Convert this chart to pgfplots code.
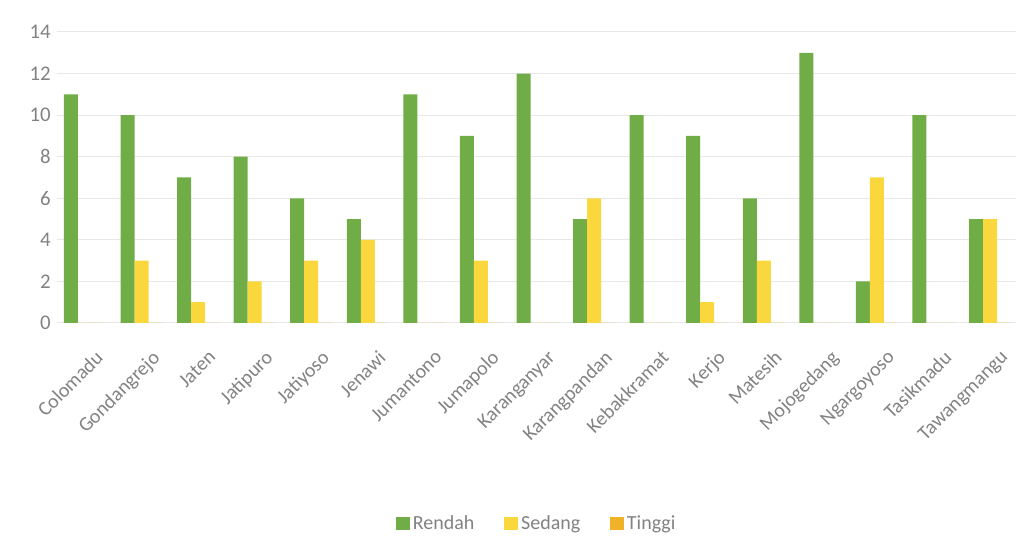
\documentclass[border=0pt]{standalone}
\usepackage{pgfplots}
\pgfplotsset{compat=1.18}
\usepackage{fontspec}
\setmainfont{Carlito}
\definecolor{cR}{RGB}{112,173,71}
\definecolor{cS}{RGB}{250,215,60}
\definecolor{cT}{RGB}{240,178,40}
\definecolor{tg}{RGB}{130,130,130}
\definecolor{gl}{RGB}{232,232,232}
\begin{document}
\begin{tikzpicture}
\useasboundingbox (-34pt,-137pt) rectangle (575.6pt,193.8pt);
\begin{axis}[
  scale only axis,
  width=577pt, height=174.6pt,
  ybar=0pt, bar width=8.4pt,
  xmin=-0.5, xmax=16.5,
  ymin=0, ymax=14,
  ytick={0,2,...,14},
  xtick=data,
  xticklabels={Colomadu,Gondangrejo,Jaten,Jatipuro,Jatiyoso,Jenawi,Jumantono,Jumapolo,Karanganyar,Karangpandan,Kebakkramat,Kerjo,Matesih,Mojogedang,Ngargoyoso,Tasikmadu,Tawangmangu},
  xticklabel style={rotate=45, anchor=north east, font=\fontsize{12}{14}\selectfont, text=tg, inner sep=0pt, yshift=-15pt, xshift=-7pt},
  yticklabel style={font=\fontsize{12.5}{14}\selectfont, text=tg},
  /pgf/number format/assume math mode=true,
  axis line style={draw=none},
  major tick length=0pt,
  ymajorgrids, grid style={gl, line width=0.6pt},
  legend style={at={(0.5,-0.69)}, anchor=center, draw=none, legend columns=3, font=\fontsize{12}{14}\selectfont, text=tg, /tikz/every even column/.append style={column sep=16pt}},
  legend image code/.code={\fill[#1] (0pt,-4pt) rectangle (8pt,4pt);},
]
\addplot[fill=cR, draw=none] coordinates {(0,11)(1,10)(2,7)(3,8)(4,6)(5,5)(6,11)(7,9)(8,12)(9,5)(10,10)(11,9)(12,6)(13,13)(14,2)(15,10)(16,5)};
\addplot[fill=cS, draw=none] coordinates {(0,0)(1,3)(2,1)(3,2)(4,3)(5,4)(6,0)(7,3)(8,0)(9,6)(10,0)(11,1)(12,3)(13,0)(14,7)(15,0)(16,5)};
\addplot[fill=cT, draw=none] coordinates {(0,0)(1,0)(2,0)(3,0)(4,0)(5,0)(6,0)(7,0)(8,0)(9,0)(10,0)(11,0)(12,0)(13,0)(14,0)(15,0)(16,0)};
\legend{Rendah,Sedang,Tinggi}
\end{axis}
\end{tikzpicture}
\end{document}
